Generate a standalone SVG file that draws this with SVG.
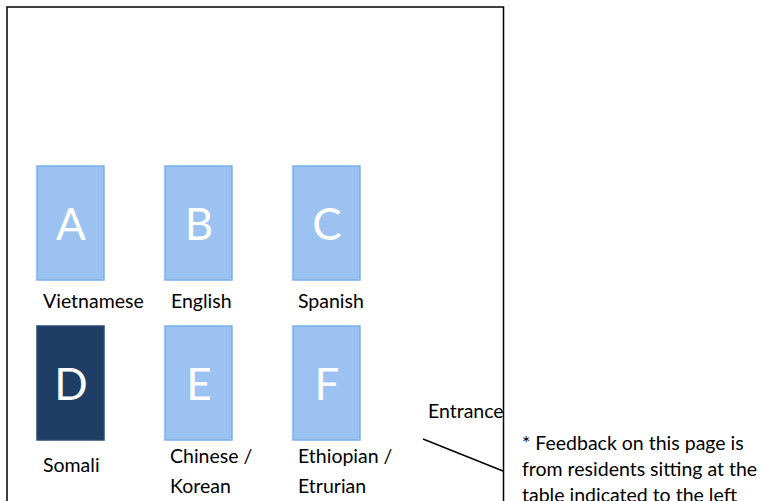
<svg xmlns="http://www.w3.org/2000/svg" width="767" height="501" viewBox="0 0 767 501">
<style>
.tbl{fill:#9cc2f1;stroke:#7aaeea;stroke-width:1.5}
.dark{fill:#1f3e66;stroke:#2a4a73;stroke-width:1.5}
.let{font-family:Lato,"Open Sans",sans-serif;font-size:44px;fill:#fff;text-anchor:middle}
.lbl{font-family:Lato,"Open Sans",sans-serif;font-size:19.5px;fill:#000}
</style>
<rect width="767" height="501" fill="#fff"/>
<rect x="7" y="7" width="496.5" height="520" fill="none" stroke="#000" stroke-width="1.5"/>
<g id="A"><rect class="tbl" x="37" y="166" width="67" height="114"/><text class="let" x="71" y="240">A</text><text class="lbl" x="43" y="308">Vietnamese</text></g>
<g id="B"><rect class="tbl" x="165" y="166" width="67" height="114"/><text class="let" x="199" y="240">B</text><text class="lbl" x="171" y="308">English</text></g>
<g id="C"><rect class="tbl" x="293" y="166" width="67" height="114"/><text class="let" x="327" y="240">C</text><text class="lbl" x="298" y="308">Spanish</text></g>
<g id="D"><rect class="dark" x="37" y="326" width="67" height="114"/><text class="let" x="71" y="400">D</text><text class="lbl" x="43" y="472">Somali</text></g>
<g id="E"><rect class="tbl" x="165" y="326" width="67" height="114"/><text class="let" x="199" y="400">E</text><text class="lbl" x="170" y="463">Chinese /</text><text class="lbl" x="170" y="493">Korean</text></g>
<g id="F"><rect class="tbl" x="293" y="326" width="67" height="114"/><text class="let" x="327" y="400">F</text><text class="lbl" x="298" y="463">Ethiopian /</text><text class="lbl" x="298" y="493">Etrurian</text></g>
<g id="entrance"><text class="lbl" x="428" y="418">Entrance</text></g>
<g id="connectors"><line x1="423" y1="439" x2="503" y2="471" stroke="#000" stroke-width="1.5"/></g>
<g id="note"><text class="lbl" x="522" y="450">* Feedback on this page is</text><text class="lbl" x="522" y="476">from residents sitting at the</text><text class="lbl" x="522" y="502">table indicated to the left</text></g>
</svg>
